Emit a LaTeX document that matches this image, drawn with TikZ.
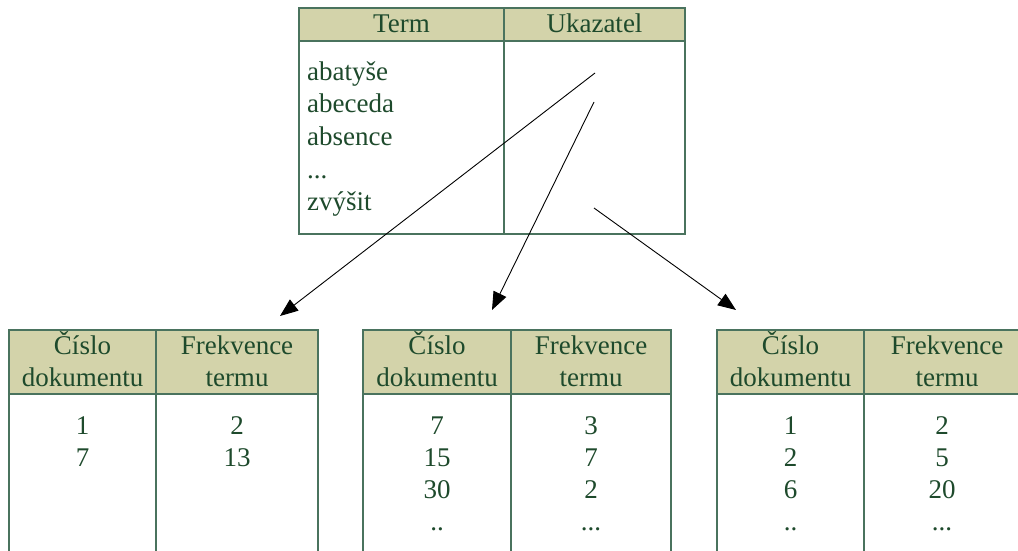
\documentclass[tikz,border=0pt]{standalone}
\usepackage{fontspec}
\setmainfont{Liberation Serif}
\usetikzlibrary{arrows.meta}
\definecolor{hdr}{HTML}{D3D3AA}
\definecolor{bord}{HTML}{4A735E}
\definecolor{txt}{HTML}{1E4A2C}
\begin{document}
\begin{tikzpicture}[x=1pt,y=-1pt,
  tx/.style={text=txt,font=\fontsize{27}{32}\selectfont,inner sep=0pt,anchor=base},
  txl/.style={tx,anchor=base west},
  frame/.style={draw=bord,line width=1.3pt},
  ptr/.style={draw=black,line width=0.9pt,-{Triangle[length=18pt,width=14pt]}}]
\useasboundingbox (0,0) rectangle (1018,551);
\clip (0,0) rectangle (1018,551);
% top table
\fill[hdr] (299,8) rectangle (685,41);
\draw[frame] (299,8) rectangle (685,234);
\draw[frame] (299,41) -- (685,41);
\draw[frame] (504,8) -- (504,234);
\node[tx] (term) at (401.5,33) {Term};
\node[tx] (uk) at (594.5,33) {Ukazatel};
\node[txl] (t1) at (307,81) {abatyše};
\node[txl] (t2) at (307,113) {abeceda};
\node[txl] (t3) at (307,145) {absence};
\node[txl] (t4) at (307,178) {...};
\node[txl] (t5) at (307,210) {zvýšit};
% bottom tables
\foreach \l/\d/\r/\n in {9/156/318/a, 363/511/671/b, 717/864/1030/c} {
  \fill[hdr] (\l,330) rectangle (\r,394);
  \draw[frame] (\l,570) -- (\l,330) -- (\r,330) -- (\r,570);
  \draw[frame] (\l,394) -- (\r,394);
  \draw[frame] (\d,330) -- (\d,570);
  \node[tx] (\n h1) at ({(\l+\d)/2},354) {Číslo};
  \node[tx] (\n h2) at ({(\l+\d)/2},386) {dokumentu};
  \node[tx] (\n h3) at ({(\d+\r)/2},354) {Frekvence};
  \node[tx] (\n h4) at ({(\d+\r)/2},386) {termu};
}
% values
\node[tx] (a11) at (82.5,434) {1};
\node[tx] (a12) at (82.5,466) {7};
\node[tx] (a21) at (237,434) {2};
\node[tx] (a22) at (237,466) {13};
\node[tx] (b11) at (437,434) {7};
\node[tx] (b12) at (437,466) {15};
\node[tx] (b13) at (437,498) {30};
\node[tx] (b14) at (437,530) {..};
\node[tx] (b21) at (591,434) {3};
\node[tx] (b22) at (591,466) {7};
\node[tx] (b23) at (591,498) {2};
\node[tx] (b24) at (591,530) {...};
\node[tx] (c11) at (790.5,434) {1};
\node[tx] (c12) at (790.5,466) {2};
\node[tx] (c13) at (790.5,498) {6};
\node[tx] (c14) at (790.5,530) {..};
\node[tx] (c21) at (942,434) {2};
\node[tx] (c22) at (942,466) {5};
\node[tx] (c23) at (942,498) {20};
\node[tx] (c24) at (942,530) {...};
% pointers
\coordinate (p1) at (595,73);
\coordinate (p2) at (594,102);
\coordinate (p3) at (594,208);
\coordinate (e1) at (280,316);
\coordinate (e2) at (492,310);
\coordinate (e3) at (736,310);
\draw[ptr] (p1) -- (e1);
\draw[ptr] (p2) -- (e2);
\draw[ptr] (p3) -- (e3);
\end{tikzpicture}
\end{document}
